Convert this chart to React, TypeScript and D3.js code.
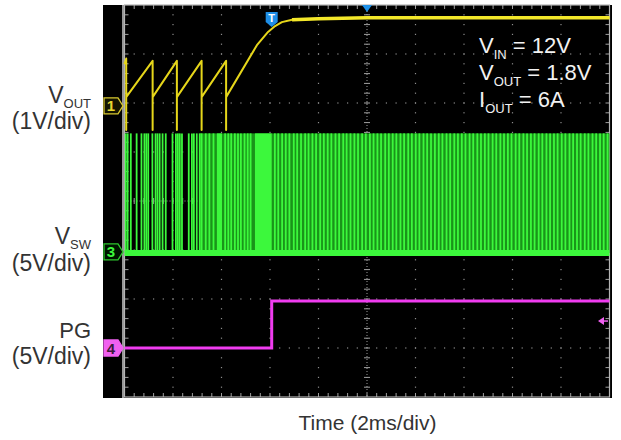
import React from 'react';
import * as d3 from 'd3';

const W = 621;
const H = 440;

// Time axis: 2 ms/div, 10 divisions, trigger in centre
const timeDomain: [number, number] = [-10, 10];
const divsX = 10;
const divsY = 8;

// Channel ground offsets (in divisions from centre) and scale (V/div)
const ch1Offset = 1.94; const ch1Scale = 1;
const ch3Offset = -1.04; const ch3Scale = 5;
const ch4Offset = -3.0; const ch4Scale = 5;

// VOUT (ch1) trace: time (ms), volts
const voutT = [-10, -9.93, -9.93, -9.93, -8.84, -8.84, -8.84, -7.84, -7.84, -7.84, -6.82, -6.82, -6.82, -5.81, -5.81, -5.81, -4.54, -4.08, -3.79, -3.51, -3.09, -2.0, 0, 4, 10];
const voutV = [0.85, 0.97, -0.49, 0.18, 0.92, -0.49, 0.18, 0.92, -0.49, 0.18, 0.92, -0.49, 0.18, 0.92, -0.49, 0.18, 1.24, 1.51, 1.63, 1.71, 1.76, 1.78, 1.8, 1.8, 1.8];
const voutSettled = -3.2;

// PG (ch4) trace
const pgT = [-10, -3.93, -3.93, 10];
const pgV = [0, 0, 4.8, 4.8];

// VSW (ch3): switching pulse times (ms), high/low levels (V)
const vswPulses = [
  -9.95, -9.87, -9.74, -9.5, -9.3, -9.18, -9.1, -9.02, -8.85, -8.72, -8.64, -8.55, -8.43, -8.3,
  -8.02, -7.88, -7.8, -7.72, -7.63, -7.35, -7.22, -7.14, -7.02, -6.9, -6.82,
  -6.65, -6.5, -6.33, -5.85, -5.72, -5.6, -5.45, -5.32, -5.2, -5.05, -4.92, -4.8,
  -3.8, -3.66, -3.5, -3.35, -3.2, -3.02, -2.88, -2.72, -2.55, -2.41, -2.25, -2.1, -1.93, -1.78,
  -1.62, -1.47, -1.3, -1.15, -0.98, -0.84, -0.68, -0.52, -0.37, -0.2, -0.05, 0.12, 0.27, 0.43,
  0.58, 0.75, 0.9, 1.06, 1.21, 1.38, 1.53, 1.7, 1.85, 2.01, 2.16, 2.33, 2.48, 2.64, 2.8, 2.96,
  3.11, 3.28, 3.43, 3.6, 3.75, 3.91, 4.06, 4.23, 4.38, 4.55, 4.7, 4.86, 5.01, 5.18, 5.33, 5.5,
  5.65, 5.81, 5.96, 6.13, 6.28, 6.45, 6.6, 6.76, 6.91, 7.08, 7.23, 7.4, 7.55, 7.71, 7.86, 8.03,
  8.18, 8.35, 8.5, 8.66, 8.81, 8.98, 9.13, 9.3, 9.45, 9.61, 9.76, 9.92,
];
const vswSolidSpans: [number, number][] = [[-6.19, -5.98], [-4.62, -3.93]];
const vswHazeSpans: [number, number][] = [[-6.9, 10]];
const vswHigh = 12.1;
const vswLow = -0.1;

// Labels
const condLines = [
  { main: 'V', sub: 'IN', rest: ' = 12V' },
  { main: 'V', sub: 'OUT', rest: ' = 1.8V' },
  { main: 'I', sub: 'OUT', rest: ' = 6A' },
];
const xTitle = 'Time (2ms/div)';

const FONT = 'Liberation Sans, Arial, sans-serif';

export default function App() {
  const x = d3.scaleLinear().domain(timeDomain).range([124.5, 609.5]);
  const yDiv = d3.scaleLinear().domain([-divsY / 2, divsY / 2]).range([397, 5]);
  const chY = (off: number, sc: number) => (v: number) => yDiv(off + v / sc);
  const y1 = chY(ch1Offset, ch1Scale);
  const y3 = chY(ch3Offset, ch3Scale);
  const y4 = chY(ch4Offset, ch4Scale);

  const voutPts = voutT.map((t, i) => [t, voutV[i]] as [number, number]);
  const line1 = d3.line<[number, number]>().x(d => x(d[0])).y(d => y1(d[1]));
  const settledPts = voutPts.filter(d => d[0] >= voutSettled);
  const pgPts = pgT.map((t, i) => [t, pgV[i]] as [number, number]);
  const line4 = d3.line<[number, number]>().x(d => x(d[0])).y(d => y4(d[1]));

  const [x0, x1] = x.range();
  const yTop = yDiv(divsY / 2);
  const yBot = yDiv(-divsY / 2);
  const dx = (x1 - x0) / divsX;
  const dy = (yBot - yTop) / divsY;

  // grid dots
  const gridEls: JSX.Element[] = [];
  const gc = '#8c8c8c';
  for (let i = 1; i < divsX; i++) {
    const gx = x0 + i * dx;
    if (i === divsX / 2) continue;
    for (let j = 1; j < divsY * 5; j++) {
      const gy = yTop + (j * dy) / 5;
      gridEls.push(<rect key={`v${i}-${j}`} x={gx - 0.6} y={gy - 0.6} width={1.2} height={1.2} fill={gc} />);
    }
  }
  for (let k = 1; k < divsY; k++) {
    const gy = yTop + k * dy;
    if (k === divsY / 2) continue;
    for (let j = 1; j < divsX * 5; j++) {
      const gx = x0 + (j * dx) / 5;
      gridEls.push(<rect key={`h${k}-${j}`} x={gx - 0.6} y={gy - 0.6} width={1.2} height={1.2} fill={gc} />);
    }
  }
  // centre cross with ticks
  const cx = x0 + (divsX / 2) * dx;
  const cy = yTop + (divsY / 2) * dy;
  for (let j = 1; j < divsY * 5; j++) {
    const gy = yTop + (j * dy) / 5;
    gridEls.push(<line key={`cvt${j}`} x1={cx - 3} x2={cx + 3} y1={gy} y2={gy} stroke="#a0a0a0" strokeWidth={1} />);
    gridEls.push(<line key={`lt${j}`} x1={x0} x2={x0 + 4} y1={gy} y2={gy} stroke="#a0a0a0" strokeWidth={1} />);
    gridEls.push(<line key={`rt${j}`} x1={x1 - 4} x2={x1} y1={gy} y2={gy} stroke="#a0a0a0" strokeWidth={1} />);
  }
  for (let j = 1; j < divsX * 5; j++) {
    const gx = x0 + (j * dx) / 5;
    gridEls.push(<line key={`cht${j}`} x1={gx} x2={gx} y1={cy - 3} y2={cy + 3} stroke="#a0a0a0" strokeWidth={1} />);
    gridEls.push(<line key={`tt${j}`} x1={gx} x2={gx} y1={yTop} y2={yTop + 4} stroke="#a0a0a0" strokeWidth={1} />);
    gridEls.push(<line key={`bt${j}`} x1={gx} x2={gx} y1={yBot - 4} y2={yBot} stroke="#a0a0a0" strokeWidth={1} />);
  }
  gridEls.push(<line key="cv" x1={cx} x2={cx} y1={yTop} y2={yBot} stroke="#9a9a9a" strokeWidth={1} strokeDasharray="1 2" />);
  gridEls.push(<line key="ch" x1={x0} x2={x1} y1={cy} y2={cy} stroke="#9a9a9a" strokeWidth={1} strokeDasharray="1 2" />);

  const marker = (yc: number, stroke: string, fill: string, txt: string, txtFill: string) => (
    <g>
      <path d={`M104,${yc - 8} L118,${yc - 8} L123,${yc} L118,${yc + 8} L104,${yc + 8} Z`} fill={fill} stroke={stroke} strokeWidth={1.3} />
      <text x={111} y={yc + 5.5} textAnchor="middle" fontFamily={FONT} fontSize={15} fontWeight="bold" fill={txtFill}>{txt}</text>
    </g>
  );

  const green = '#3cf83c';
  const tT = x(-3.93);

  return (
    <svg width={W} height={H} style={{ position: 'absolute', left: 0, top: 0, background: '#fff' }}>
      <rect x={0} y={0} width={W} height={H} fill="#fff" />
      <rect x={103} y={5} width={509} height={393} fill="#000" />
      <line x1={123} x2={123} y1={5} y2={398} stroke="#c8c8c8" strokeWidth={1.5} />
      {gridEls}
      <rect x={x0} y={yTop} width={x1 - x0} height={yBot - yTop} fill="none" stroke="#b4b4b4" strokeWidth={1.2} />

      {/* VSW */}
      {vswHazeSpans.map(([a, b], i) => (
        <rect key={`hz${i}`} x={x(a)} y={y3(vswHigh)} width={x(b) - x(a)} height={y3(vswLow) - y3(vswHigh)} fill="#1a941a" />
      ))}
      {vswSolidSpans.map(([a, b], i) => (
        <rect key={`sd${i}`} x={x(a)} y={y3(vswHigh)} width={x(b) - x(a)} height={y3(vswLow) - y3(vswHigh)} fill={green} />
      ))}
      {vswPulses.map((t, i) => (
        <line key={`p${i}`} x1={x(t)} x2={x(t)} y1={y3(vswHigh)} y2={y3(vswLow)} stroke={green} strokeWidth={1.8} />
      ))}
      <line x1={x0} x2={x1} y1={y3(vswLow)} y2={y3(vswLow)} stroke={green} strokeWidth={6} />

      {/* VOUT */}
      <path d={line1(voutPts) || ''} fill="none" stroke="#e6d61a" strokeWidth={2} strokeLinejoin="round" />
      <path d={line1(settledPts) || ''} fill="none" stroke="#f4e82a" strokeWidth={3.5} strokeLinejoin="round" />

      {/* PG */}
      <path d={line4(pgPts) || ''} fill="none" stroke="#f03cf0" strokeWidth={3} />

      {/* channel markers */}
      {marker(y1(0), '#d8c830', '#151500', '1', '#e8d830')}
      {marker(y3(0), '#2ec82e', '#001500', '3', '#3cf83c')}
      {marker(y4(0), '#f060f0', '#f060f0', '4', '#3a1a3a')}

      {/* trigger markers */}
      <path d={`M${cx - 5},5 L${cx + 5},5 L${cx},12 Z`} fill="#1e90e8" />
      <path d={`M${tT - 6},12 L${tT + 6},12 L${tT + 6},22 L${tT},27 L${tT - 6},22 Z`} fill="#1e8ee6" />
      <text x={tT} y={22} textAnchor="middle" fontFamily={FONT} fontSize={11} fontWeight="bold" fill="#fff">T</text>
      <path d={`M598,${y4(2.75)} L604,${y4(2.75) - 4} L604,${y4(2.75) + 4} Z`} fill="#f060f0" />
      <line x1={603} x2={608} y1={y4(2.75)} y2={y4(2.75)} stroke="#f060f0" strokeWidth={1.5} />

      {/* conditions */}
      {condLines.map((l, i) => (
        <text key={`c${i}`} x={479} y={53 + i * 27} fontFamily={FONT} fontSize={22} fill="#f2f2f2">
          {l.main}
          <tspan fontSize={13} dy={6}>{l.sub}</tspan>
          <tspan dy={-6}>{l.rest}</tspan>
        </text>
      ))}

      {/* left labels */}
      <text x={91} y={103} textAnchor="end" fontFamily={FONT} fontSize={23} fill="#333">
        V<tspan fontSize={13} dy={5}>OUT</tspan>
      </text>
      <text x={91} y={129} textAnchor="end" fontFamily={FONT} fontSize={23} fill="#333">(1V/div)</text>
      <text x={91} y={244} textAnchor="end" fontFamily={FONT} fontSize={23} fill="#333">
        V<tspan fontSize={13} dy={5}>SW</tspan>
      </text>
      <text x={91} y={271} textAnchor="end" fontFamily={FONT} fontSize={23} fill="#333">(5V/div)</text>
      <text x={91} y={338} textAnchor="end" fontFamily={FONT} fontSize={22} fill="#333">PG</text>
      <text x={91} y={364} textAnchor="end" fontFamily={FONT} fontSize={23} fill="#333">(5V/div)</text>

      <text x={367.5} y={430} textAnchor="middle" fontFamily={FONT} fontSize={21} fill="#333">{xTitle}</text>
    </svg>
  );
}
